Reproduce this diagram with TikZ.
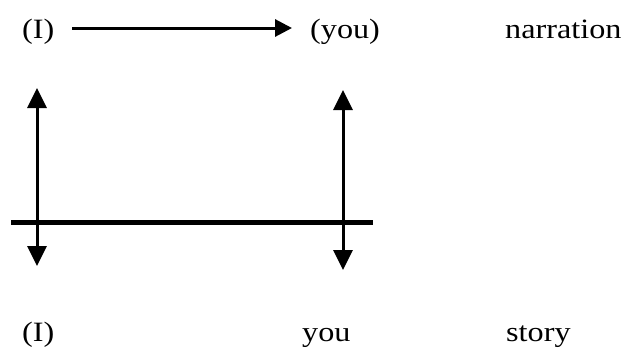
\documentclass[tikz,border=0pt]{standalone}
\usepackage{fontspec}
\setmainfont{Liberation Serif}[FakeStretch=1.15]
\usetikzlibrary{arrows.meta}
\begin{document}
\begin{tikzpicture}[x=1pt,y=-1pt,
  lbl/.style={anchor=base west,inner sep=0pt,font=\fontsize{28}{34}\selectfont},
  arr/.style={line width=3pt,-{Triangle[length=17pt,width=17pt]}},
  varr/.style={line width=3pt,{Triangle[length=20pt,width=19pt]}-{Triangle[length=20pt,width=19pt]}},
  bar/.style={line width=5pt}]
\useasboundingbox (0,0) rectangle (628,348);
% labels
\node[lbl] (i1) at (22,38) {(I)};
\node[lbl] (you1) at (310,38) {(you)};
\node[lbl] (narr) at (505,38) {narration};
\node[lbl] (i2) at (22,341) {(I)};
\node[lbl] (you2) at (302,341) {you};
\node[lbl] (story) at (506,341) {story};
% connector coordinates
\coordinate (h1) at (72,28);
\coordinate (h2) at (292,28);
\coordinate (lt) at (37,88);
\coordinate (lb) at (37,266);
\coordinate (rt) at (343,90);
\coordinate (rb) at (343,270);
\coordinate (b1) at (11,222.5);
\coordinate (b2) at (373,222.5);
% drawing
\draw[arr] (h1) -- (h2);
\draw[varr] (lt) -- (lb);
\draw[varr] (rt) -- (rb);
\draw[bar] (b1) -- (b2);
\end{tikzpicture}
\end{document}
